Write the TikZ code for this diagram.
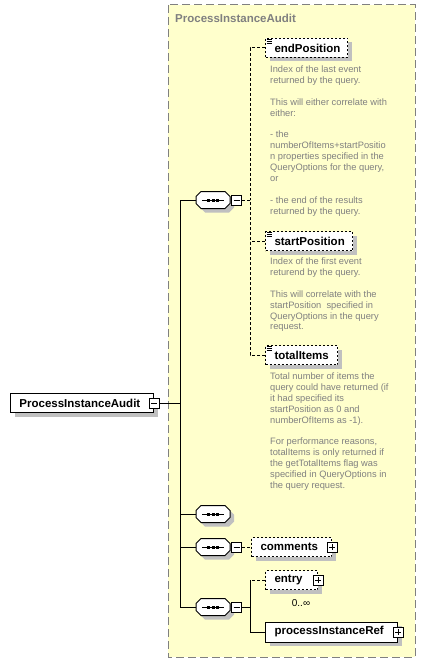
\documentclass[tikz,border=0pt]{standalone}
\usepackage{fontspec}
\setmainfont{Liberation Sans}
\usetikzlibrary{shadows,calc}
\definecolor{bgyellow}{RGB}{255,255,204}
\definecolor{framegray}{RGB}{128,128,128}
\definecolor{shadowgray}{RGB}{192,192,192}
\definecolor{docgray}{RGB}{128,128,128}
\tikzset{
  lbl/.style={font=\fontsize{11.5}{13}\selectfont\bfseries},
  elem/.style={lbl, draw=black, fill=white, line width=1pt, anchor=west,
    minimum height=19pt, inner xsep=9pt, inner ysep=0pt, align=left, text width=#1,
    drop shadow={shadow xshift=4pt, shadow yshift=-4pt, fill=shadowgray, opacity=1}},
  optelem/.style={elem=#1, dash pattern=on 2pt off 2pt},
  signbox/.style={draw=black, fill=white, line width=1pt, minimum size=10pt, inner sep=0pt, shape=rectangle},
  minusbox/.style={signbox, path picture={
    \draw[line width=1pt] ($(path picture bounding box.center)+(-3pt,0pt)$) -- ($(path picture bounding box.center)+(3pt,0pt)$);}},
  plusbox/.style={signbox, path picture={
    \draw[line width=1pt] ($(path picture bounding box.center)+(-3pt,0pt)$) -- ($(path picture bounding box.center)+(3pt,0pt)$);
    \draw[line width=1pt] ($(path picture bounding box.center)+(0pt,-3pt)$) -- ($(path picture bounding box.center)+(0pt,3pt)$);}},
  doc/.style={font=\fontsize{9.3}{10.9}\selectfont, text=docgray, align=left, anchor=north west, inner sep=0pt},
  conn/.style={draw=black, line width=1pt},
  dconn/.style={conn, dash pattern=on 3pt off 2pt},
  docicon/.style={line width=0.8pt},
  seqpic/.pic={
    \fill[shadowgray, shift={(4,4)}] (-17,-3.5)--(-12,-8.5)--(12,-8.5)--(17,-3.5)--(17,3.5)--(12,8.5)--(-12,8.5)--(-17,3.5)--cycle;
    \path[fill=white, draw=black, line width=1pt] (-17,-3.5)--(-12,-8.5)--(12,-8.5)--(17,-3.5)--(17,3.5)--(12,8.5)--(-12,8.5)--(-17,3.5)--cycle;
    \draw[line width=1pt] (-11,0)--(11,0);
    \fill (-6,-1.5) rectangle (-3,1.5);
    \fill (-1.5,-1.5) rectangle (1.5,1.5);
    \fill (3,-1.5) rectangle (6,1.5);
    \coordinate (-w) at (-17,0);
    \coordinate (-e) at (17,0);
  }
}
\begin{document}
\begin{tikzpicture}[x=1pt,y=-1pt]
\useasboundingbox (0,0) rectangle (425,663);
\fill[white] (0,0) rectangle (425,663);
% container
\draw[fill=bgyellow, draw=framegray, line width=1pt, dash pattern=on 8pt off 4pt] (168,5) rectangle (415,657);
\node[lbl, text=framegray, anchor=west, inner sep=0pt] (ttl) at (175,18) {ProcessInstanceAudit};

% root
\node[elem=125pt] (root) at (10,403) {ProcessInstanceAudit};
\node[minusbox] (rootm) at (root.east) {};

% bus
\coordinate (j1) at (180,200);
\coordinate (jr) at (180,403);
\coordinate (j2) at (180,514);
\coordinate (j3) at (180,547);
\coordinate (j4) at (180,607);
\draw[conn] (j1) -- (j4);
\draw[conn] (rootm.east) -- (jr);

% sequences
\pic (s1) at (213,200) {seqpic};
\pic (s2) at (213,514) {seqpic};
\pic (s3) at (213,547) {seqpic};
\pic (s4) at (213,607) {seqpic};
\draw[conn] (j1) -- (s1-w);
\draw[conn] (j2) -- (s2-w);
\draw[conn] (j3) -- (s3-w);
\draw[conn] (j4) -- (s4-w);
\node[minusbox] (s1m) at (236.5,200) {};
\node[minusbox] (s3m) at (236.5,547) {};
\node[minusbox] (s4m) at (236.5,607) {};

% sequence 1 children
\node[optelem=64pt] (endP) at (265,48) {endPosition};
\node[optelem=69pt] (startP) at (265,241) {startPosition};
\node[optelem=54pt] (totI) at (265,355) {totalItems};
\foreach \n in {endP,startP,totI}{
  \draw[docicon] ($(\n.north west)+(1.5pt,-1.5pt)$) -- ++(5pt,0pt);
  \draw[docicon] ($(\n.north west)+(1.5pt,-3.3pt)$) -- ++(5pt,0pt);
  \draw[docicon] ($(\n.north west)+(1.5pt,-5.1pt)$) -- ++(5pt,0pt);
}
\coordinate (v1) at (250,200);
\draw[dconn] (s1m.east) -- (v1);
\draw[dconn] (endP.west) -| (v1);
\draw[dconn] (totI.west) -| (v1);
\draw[dconn] (startP.west) -- (startP.west -| v1);

\node[doc] (endPdoc) at (270,65.6) {Index of the last event\\returned by the query.\\\mbox{}\\This will either correlate with\\either:\\\mbox{}\\- the\\numberOfItems+startPositio\\n properties specified in the\\QueryOptions for the query,\\or\\\mbox{}\\- the end of the results\\returned by the query.};
\node[doc] (startPdoc) at (270,257.6) {Index of the first event\\returend by the query.\\\mbox{}\\This will correlate with the\\startPosition\ \ specified in\\QueryOptions in the query\\request.};
\node[doc] (totIdoc) at (270,372.6) {Total number of items the\\query could have returned (if\\it had specified its\\startPosition as 0 and\\numberOfItems as -1).\\\mbox{}\\For performance reasons,\\totalItems is only returned if\\the getTotalItems flag was\\specified in QueryOptions in\\the query request.};

% sequence 3 child
\node[optelem=62pt] (comm) at (251,547) {comments};
\node[plusbox] (commp) at (comm.east) {};
\draw[dconn] (s3m.east) -- (comm.west);

% sequence 4 children
\node[optelem=34pt] (entry) at (265,580) {entry};
\node[plusbox] (entryp) at (entry.east) {};
\node[font=\fontsize{10}{12}\selectfont, inner sep=0pt] (entrym) at (301,603) {0..∞};
\node[elem=114pt, minimum height=20pt] (pir) at (265,632) {processInstanceRef};
\node[plusbox] (pirp) at (pir.east) {};
\coordinate (v4) at (250,607);
\draw[conn] (s4m.east) -- (v4);
\draw[conn] (entry.west -| v4) -- (pir.west -| v4);
\draw[dconn] (entry.west) -- (entry.west -| v4);
\draw[conn] (pir.west) -- (pir.west -| v4);
\end{tikzpicture}
\end{document}
